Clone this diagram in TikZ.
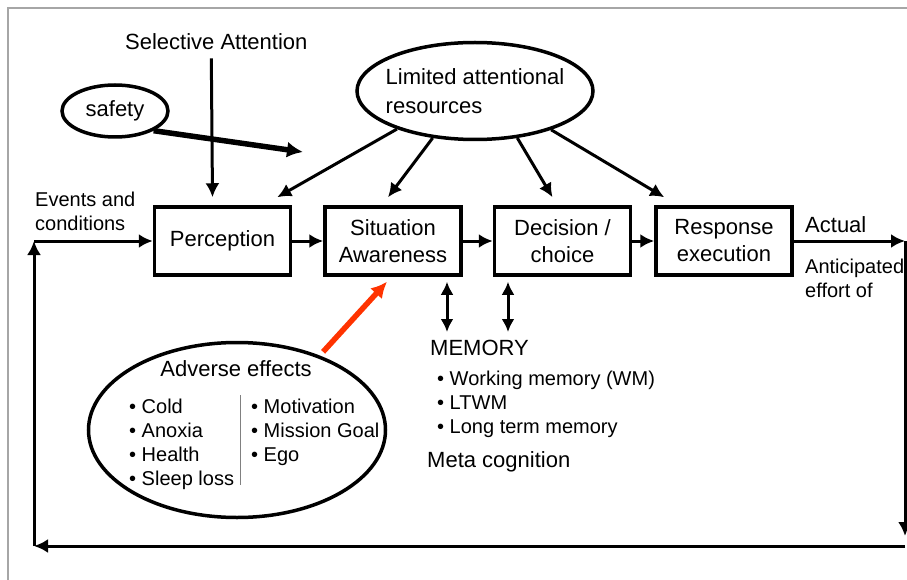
\documentclass[tikz,border=0pt]{standalone}
\usepackage{fontspec}
\setmainfont{Liberation Sans}
\usetikzlibrary{positioning,shapes,arrows,arrows.meta}
\definecolor{adversered}{RGB}{255,51,0}

\begin{document}
\begin{tikzpicture}[x=1pt,y=-1pt,
	node distance=1cm and 0cm,
	stagebox/.style={draw, rectangle, line width=3.5pt, minimum width=136pt, minimum height=68pt, align=center, inner sep=0pt, font=\fontsize{22}{27}\selectfont},
	bigtext/.style={font=\fontsize{22}{28.5}\selectfont, inner sep=0pt},
	smalltext/.style={font=\fontsize{20}{24}\selectfont, inner sep=0pt, align=left},
	oval/.style={draw, ellipse, line width=3.5pt, inner sep=0pt},
	arr/.style={-{Latex[length=14pt,width=14pt]}, line width=3pt},
	dblarr/.style={{Latex[length=13pt,width=13pt]}-{Latex[length=13pt,width=13pt]}, line width=3pt},
	thickarr/.style={-{Latex[length=16pt,width=16pt]}, line width=5.5pt}
	]
	
	\useasboundingbox (0,0) rectangle (907,580);
	\draw[gray!70, line width=1.5pt] (907,8) -- (8,8) -- (8,580);
	
	\node[stagebox] (perc) at (222.5,241) {Perception};
	\node[stagebox, right = 31pt of perc] (sa) {Situation\\Awareness};
	\node[stagebox, right = 30pt of sa] (dc) {Decision /\\choice};
	\node[stagebox, right = 22pt of dc] (re) {Response\\execution};
	
	\node[bigtext, anchor=base west] (selatt) at (125,50) {Selective Attention};
	\node[smalltext, anchor=base west] (events) at (35,230) {Events and\\conditions};
	\node[oval, bigtext, minimum width=106pt, minimum height=52pt] (safety) at (115,111) {safety};
	\node[oval, minimum width=236pt, minimum height=97pt] (lar) at (475,91) {};
	\node[bigtext, align=left] (lartext) at (lar) {Limited attentional\\resources};
	\coordinate (safend) at (303,152);
	
	\node[oval, minimum width=297pt, minimum height=175pt] (ae) at (237,430) {};
	\node[bigtext, anchor=base] (aetitle) at (236,376) {Adverse effects};
	\node[smalltext, anchor=base west] (aeleft) at (129,485) {\textbullet\ Cold\\\textbullet\ Anoxia\\\textbullet\ Health\\\textbullet\ Sleep loss};
	\node[smalltext, anchor=base west] (aeright) at (251,461) {\textbullet\ Motivation\\\textbullet\ Mission Goal\\\textbullet\ Ego};
	\draw[gray, line width=1pt] (240,395) -- (240,485);
	
	\node[bigtext, anchor=base west] (mem) at (430,355) {MEMORY};
	\node[smalltext, anchor=base west] (memlist) at (437,433) {\textbullet\ Working memory (WM)\\\textbullet\ LTWM\\\textbullet\ Long term memory};
	\node[bigtext, anchor=base west] (meta) at (427,467) {Meta cognition};
	\coordinate (m1) at (447,332);
	\coordinate (m2) at (508,332);
	
	\node[bigtext, anchor=base west] (actual) at (805,232) {Actual};
	\node[smalltext, anchor=base west] (antic) at (805,297) {Anticipated\\effort of};
	\coordinate (fr) at (905,241);
	\coordinate (br) at (905,546);
	\coordinate (bl) at (34,546);
	\coordinate (tl) at (34,241);
	
	\path (perc) edge[arr] (sa)
	(sa) edge[arr] (dc)
	(dc) edge[arr] (re)
	([xshift=-5pt,yshift=-8pt]selatt.south) edge[arr] ([xshift=-10pt,yshift=8pt]perc.north)
	(lar.206) edge[arr] ([xshift=-15pt,yshift=8pt]perc.north east)
	(lar.228) edge[arr] ([xshift=-5pt,yshift=8pt]sa.north)
	(lar.312) edge[arr] ([xshift=-10pt,yshift=8pt]dc.north)
	(lar.333) edge[arr] ([xshift=10pt,yshift=8pt]re.north west)
	(sa.south -| m1) edge[dblarr, shorten <=5pt] (m1)
	(dc.south -| m2) edge[dblarr, shorten <=5pt] (m2)
	(re) edge[arr] (fr)
	(fr) edge[arr, shorten >=10pt] (br)
	(br) edge[arr] (bl)
	(bl) edge[arr] (tl)
	(tl) edge[arr] (perc);
	
	\draw[thickarr] (safety.-27) -- (safend);
	\draw[thickarr, adversered, shorten <=5pt] (ae.42) -- ([xshift=-6pt,yshift=-5pt]sa.south);
	
\end{tikzpicture}
\end{document}
